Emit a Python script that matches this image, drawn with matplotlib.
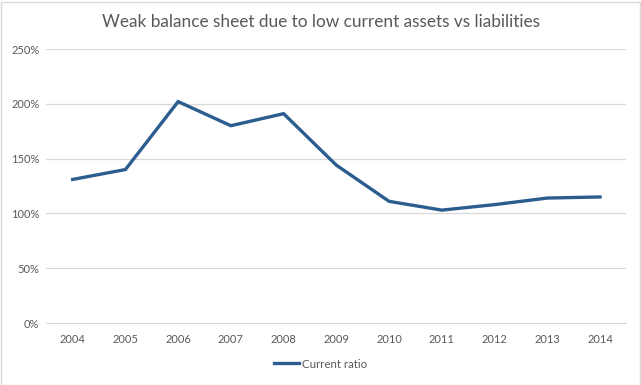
import matplotlib.pyplot as plt
from matplotlib.ticker import FuncFormatter
from matplotlib.patches import Rectangle

years = ["2004", "2005", "2006", "2007", "2008", "2009",
         "2010", "2011", "2012", "2013", "2014"]
current_ratio = [131, 140, 202, 180, 191, 144, 111, 103, 108, 114, 115]
y_ticks = [0, 50, 100, 150, 200, 250]

W, H = 641, 385
text_grey = "#595959"
line_blue = "#2C5D8F"
plt.rcParams['font.family'] = ['Lato', 'DejaVu Sans']

fig = plt.figure(figsize=(W / 100, H / 100), dpi=100)
# light chart border
fig.patches.append(Rectangle((0.5 / W, 0.5 / H), (W - 2) / W, (H - 2) / H,
                             transform=fig.transFigure, fill=False,
                             edgecolor="#D9D9D9", linewidth=1))

left, right = 46.3, 626.4
top, bottom = 49, 323
ax = fig.add_axes([left / W, (H - bottom) / H, (right - left) / W, (bottom - top) / H])

x = list(range(len(years)))
ax.plot(x, current_ratio, color=line_blue, linewidth=2.4,
        solid_joinstyle="miter", label="Current ratio")

ax.set_xlim(-0.5, len(years) - 0.5)
ax.set_ylim(0, 250)
ax.set_xticks(x)
ax.set_xticklabels(years)
ax.set_yticks(y_ticks)
ax.yaxis.set_major_formatter(FuncFormatter(lambda v, p: f"{v:.0f}%"))
ax.grid(axis="y", color="#D9D9D9", linewidth=0.9)
ax.set_axisbelow(True)
for s in ["top", "right", "left"]:
    ax.spines[s].set_visible(False)
ax.spines["bottom"].set_color("#D9D9D9")
ax.tick_params(axis="both", length=0, labelsize=8, colors=text_grey)
ax.tick_params(axis="x", pad=8)
ax.tick_params(axis="y", pad=5)

fig.text(0.5, 1 - 22 / H, "Weak balance sheet due to low current assets vs liabilities",
         ha="center", va="center", fontsize=12.4, color=text_grey)

fig.legend(loc="center", bbox_to_anchor=(0.5, 1 - 364 / H), frameon=False,
           fontsize=8.3, labelcolor=text_grey, handlelength=2.2, handletextpad=0.2)

fig.savefig("out.png", dpi=100)
